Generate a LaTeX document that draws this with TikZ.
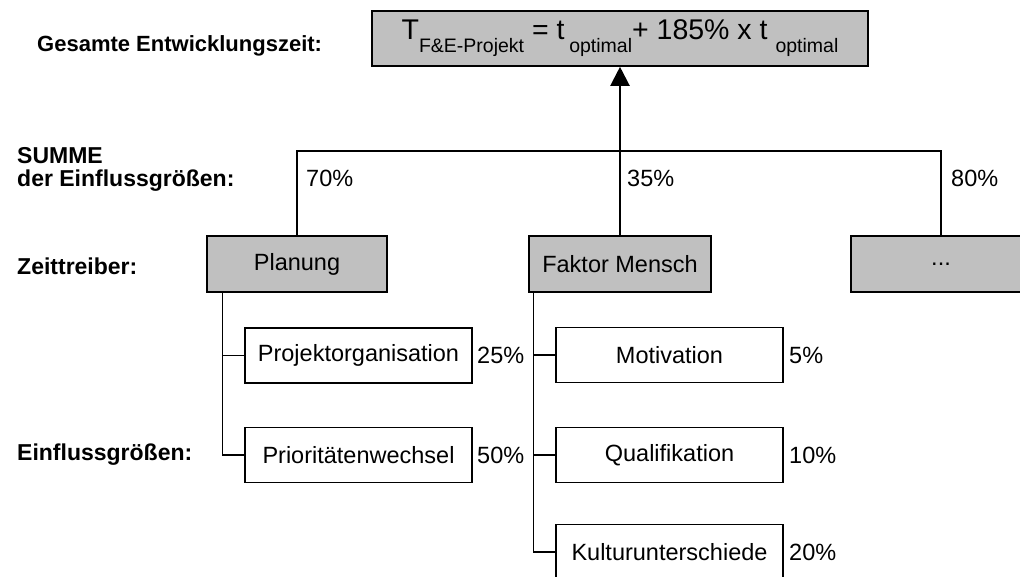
\documentclass[tikz,border=0pt]{standalone}
\usepackage{fontspec}
\setmainfont{Liberation Sans}
\usetikzlibrary{arrows.meta}
\definecolor{boxgray}{HTML}{C0C0C0}
\newcommand\lowsub[1]{\raisebox{-13pt}{\fontsize{19.5}{19.5}\selectfont #1}}
\begin{document}
\begin{tikzpicture}[x=1pt,y=-1pt,
  base/.style={font=\fontsize{23.5}{24}\selectfont, inner sep=0pt, line width=1.6pt, draw=black},
  graybox/.style={base, fill=boxgray, minimum width=180pt, minimum height=56pt},
  whitebox/.style={base, fill=white, minimum width=227pt, minimum height=55pt},
  pct/.style={font=\fontsize{23.5}{24}\selectfont, inner sep=0pt, anchor=west},
  lbl/.style={font=\bfseries\fontsize{23}{23}\selectfont, inner sep=0pt, anchor=west, align=left},
  conn/.style={line width=1.3pt},
]
\clip (0,0) rectangle (1020,576);

% left labels
\node[lbl, font=\bfseries\fontsize{22}{22}\selectfont] (l1) at (37,46) {Gesamte Entwicklungszeit:};
\node[lbl] (l2) at (17,169.5) {SUMME\\der Einflussgrößen:};
\node[lbl] (l3) at (17,266) {Zeittreiber:};
\node[lbl] (l4) at (17,455) {Einflussgrößen:};

% top formula
\node[base, fill=boxgray, minimum width=496pt, minimum height=55pt,
      font=\fontsize{28.5}{28.5}\selectfont] (top) at (620,38.5)
  {T\lowsub{F\&E-Projekt} = t\,\lowsub{optimal}+ 185\% x t \lowsub{optimal}};

% drivers
\node[graybox] (plan) at (297,264) {Planung};
\node[graybox, minimum width=182pt] (fm) at (620,264) {Faktor Mensch};
\node[graybox] (dots) at (941,264) {...};

% influences
\node[whitebox] (po) at (358.5,355.5) {Projektorganisation};
\node[whitebox] (pw) at (358.5,455) {Prioritätenwechsel};
\node[whitebox] (mo) at (669.5,355) {Motivation};
\node[whitebox] (qu) at (669.5,455) {Qualifikation};
\node[whitebox] (ku) at (669.5,552) {Kulturunterschiede};

% connectors
\coordinate (hub) at (620,151);
\draw[conn, line width=1.8pt] (plan.north) |- (hub) -| (dots.north);
\draw[conn] (fm.north) -- (hub);
\draw[line width=2.2pt, -{Triangle[length=19pt,width=19pt]}] (hub) -- (top.south);

\draw[conn] ([xshift=16pt]plan.south west) |- (pw.west);
\draw[conn] ([xshift=16pt]plan.south west) |- (po.west);
\draw[conn] ([xshift=5pt]fm.south west) |- (ku.west);
\draw[conn] ([xshift=5pt]fm.south west) |- (qu.west);
\draw[conn] ([xshift=5pt]fm.south west) |- (mo.west);

% percentages
\node[pct] (p70) at (306,178) {70\%};
\node[pct] (p35) at (627,178) {35\%};
\node[pct] (p80) at (951,178) {80\%};
\node[pct] (p25) at (477,355) {25\%};
\node[pct] (p50) at (477,455) {50\%};
\node[pct] (p5) at (789,355) {5\%};
\node[pct] (p10) at (789,455) {10\%};
\node[pct] (p20) at (789,552) {20\%};
\end{tikzpicture}
\end{document}
